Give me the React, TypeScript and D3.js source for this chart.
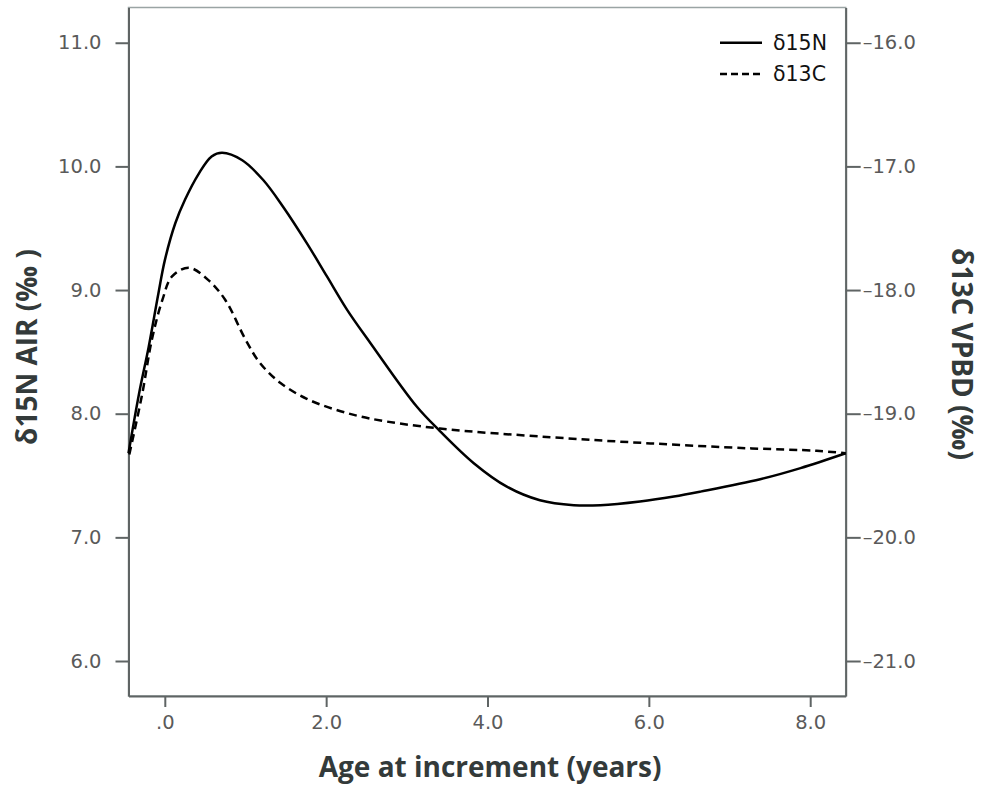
import React, { useRef, useEffect } from "react";
import * as d3 from "d3";

// δ15N (left axis, ‰ AIR)
const n15Age = [-0.45, -0.32, -0.2, -0.08, 0.0, 0.13, 0.25, 0.42, 0.58, 0.71, 0.96, 1.22, 1.47, 1.76, 2.01, 2.26, 2.55, 3.12, 3.41, 3.83, 4.24, 4.65, 5.07, 5.4, 5.89, 6.31, 6.64, 7.38, 7.88, 8.44];
const n15Val = [7.68, 8.16, 8.54, 8.97, 9.24, 9.54, 9.73, 9.94, 10.08, 10.11, 10.05, 9.89, 9.67, 9.38, 9.11, 8.84, 8.57, 8.06, 7.86, 7.6, 7.41, 7.3, 7.26, 7.26, 7.29, 7.33, 7.37, 7.47, 7.56, 7.68];

// δ13C (right axis, ‰ VPBD)
const c13Age = [-0.44, -0.28, -0.16, -0.03, 0.09, 0.3, 0.54, 0.75, 1.0, 1.18, 1.43, 1.76, 2.13, 2.55, 3.41, 4.78, 6.02, 7.25, 8.08, 8.44];
const c13Val = [-19.33, -18.84, -18.4, -18.08, -17.89, -17.82, -17.92, -18.08, -18.4, -18.59, -18.75, -18.88, -18.97, -19.04, -19.12, -19.19, -19.24, -19.28, -19.3, -19.32];

const xTicks = [0, 2, 4, 6, 8];
const leftTicks = [6, 7, 8, 9, 10, 11];
const rightTicks = [-21, -20, -19, -18, -17, -16];

const W = 981;
const H = 789;
const plot = { left: 128.5, right: 845.7, top: 7.5, bottom: 696 };

export default function App() {
  const ref = useRef<SVGSVGElement>(null);

  useEffect(() => {
    if (!ref.current) return;
    const svg = d3.select(ref.current);
    svg.selectAll("*").remove();

    const x = d3.scaleLinear().domain([-0.45, 8.44]).range([plot.left, plot.right]);
    const yL = d3.scaleLinear().domain([5.717, 11.285]).range([plot.bottom, plot.top]);
    const yR = d3.scaleLinear().domain([-21.283, -15.715]).range([plot.bottom, plot.top]);

    const tickFont = "'DejaVu Sans', sans-serif";
    const titleFont = "'Open Sans', sans-serif";

    // frame
    svg
      .append("rect")
      .attr("x", plot.left)
      .attr("y", plot.top)
      .attr("width", plot.right - plot.left)
      .attr("height", plot.bottom - plot.top)
      .attr("fill", "none")
      .attr("stroke", "#9aa4a4")
      .attr("stroke-width", 1.5);

    const style = (g: d3.Selection<SVGGElement, unknown, null, undefined>) => {
      g.select(".domain").attr("stroke", "#5f6464").attr("stroke-width", 2);
      g.selectAll(".tick line").attr("stroke", "#5f6464").attr("stroke-width", 2);
      g.selectAll(".tick text")
        .attr("fill", "#5a5a5a")
        .attr("font-family", tickFont)
        .attr("font-size", 19.5);
    };

    svg
      .append("g")
      .attr("transform", `translate(${plot.left},0)`)
      .call(
        d3.axisLeft(yL).tickValues(leftTicks).tickSize(13).tickSizeOuter(0).tickPadding(14).tickFormat((d) => (+d).toFixed(1))
      )
      .call(style);

    svg
      .append("g")
      .attr("transform", `translate(${plot.right},0)`)
      .call(
        d3.axisRight(yR).tickValues(rightTicks).tickSize(15).tickSizeOuter(0).tickPadding(2).tickFormat((d) => "\u2013" + Math.abs(+d).toFixed(1))
      )
      .call(style);

    svg
      .append("g")
      .attr("transform", `translate(0,${plot.bottom})`)
      .call(
        d3.axisBottom(x).tickValues(xTicks).tickSize(11).tickSizeOuter(0).tickPadding(8).tickFormat((d) => (+d === 0 ? ".0" : (+d).toFixed(1)))
      )
      .call(style);

    // curves
    const lineN = d3
      .line<number>()
      .x((_, i) => x(n15Age[i]))
      .y((d) => yL(d))
      .curve(d3.curveCatmullRom.alpha(0.5));
    const lineC = d3
      .line<number>()
      .x((_, i) => x(c13Age[i]))
      .y((d) => yR(d))
      .curve(d3.curveCatmullRom.alpha(0.5));

    svg
      .append("path")
      .attr("d", lineC(c13Val))
      .attr("fill", "none")
      .attr("stroke", "#000")
      .attr("stroke-width", 2.5)
      .attr("stroke-dasharray", "8,5");

    svg
      .append("path")
      .attr("d", lineN(n15Val))
      .attr("fill", "none")
      .attr("stroke", "#000")
      .attr("stroke-width", 2.5);

    // legend
    const legend = [
      { label: "δ15N", dash: null, y: 42.7 },
      { label: "δ13C", dash: "7,4", y: 74 },
    ];
    legend.forEach((l) => {
      const ln = svg
        .append("line")
        .attr("x1", 720)
        .attr("x2", 762)
        .attr("y1", l.y)
        .attr("y2", l.y)
        .attr("stroke", "#000")
        .attr("stroke-width", 2.5);
      if (l.dash) ln.attr("stroke-dasharray", l.dash);
      svg
        .append("text")
        .attr("x", 773)
        .attr("y", l.y + 7)
        .attr("font-family", tickFont)
        .attr("font-size", 20.5)
        .attr("fill", "#111")
        .text(l.label);
    });

    // axis titles
    svg
      .append("text")
      .attr("x", (plot.left + plot.right) / 2 + 3)
      .attr("y", 777)
      .attr("text-anchor", "middle")
      .attr("font-family", titleFont)
      .attr("font-weight", "bold")
      .attr("font-size", 28)
      .attr("fill", "#333a3a")
      .text("Age at increment (years)");

    svg
      .append("text")
      .attr("transform", `translate(37,347) rotate(-90)`)
      .attr("text-anchor", "middle")
      .attr("font-family", titleFont)
      .attr("font-weight", "bold")
      .attr("font-size", 28)
      .attr("fill", "#333a3a")
      .text("δ15N AIR (‰ )");

    svg
      .append("text")
      .attr("transform", `translate(952,354) rotate(90)`)
      .attr("text-anchor", "middle")
      .attr("font-family", titleFont)
      .attr("font-weight", "bold")
      .attr("font-size", 28)
      .attr("fill", "#333a3a")
      .text("δ13C VPBD (‰)");
  }, []);

  return (
    <svg
      ref={ref}
      width={W}
      height={H}
      style={{ position: "absolute", left: 0, top: 0, background: "#fff" }}
    />
  );
}
